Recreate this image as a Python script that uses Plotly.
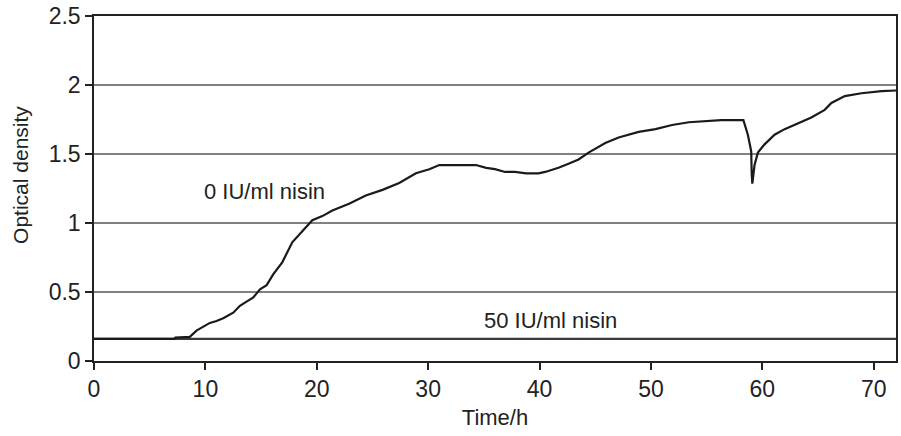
import plotly.graph_objects as go

# 0 IU/ml nisin curve (time h, optical density)
t0 = [0, 3, 7.2, 7.3, 8.6, 9.2, 9.8, 10.4, 11.0, 11.6, 12.5, 13.1, 13.7, 14.3, 14.9,
      15.5, 16.1, 16.9, 17.8, 18.7, 19.3, 19.6, 20.5, 21.4, 22.9, 24.4, 25.9, 27.4,
      28.9, 30.1, 31.0, 32.5, 34.3, 35.2, 36.0, 36.9, 37.8, 38.8, 39.9, 40.5, 41.4,
      41.7, 42.6, 43.5, 44.4, 45.2, 45.9, 47.1, 48.0, 48.9, 50.4, 51.9, 53.4, 54.9,
      56.3, 57.4, 58.3, 58.7, 59.0, 59.05, 59.1, 59.3, 59.6, 60.2, 61.1, 62.0, 63.2,
      64.4, 65.6, 66.2, 67.4, 68.9, 70.7, 72.0]
od0 = [0.16, 0.16, 0.16, 0.17, 0.175, 0.22, 0.245, 0.276, 0.29, 0.31, 0.35, 0.40, 0.43,
       0.46, 0.52, 0.55, 0.63, 0.715, 0.86, 0.94, 1.0, 1.02, 1.05, 1.09, 1.14, 1.20,
       1.24, 1.29, 1.36, 1.39, 1.42, 1.42, 1.42, 1.40, 1.39, 1.37, 1.37, 1.36, 1.36,
       1.37, 1.39, 1.40, 1.43, 1.46, 1.51, 1.55, 1.58, 1.62, 1.64, 1.66, 1.68, 1.71,
       1.73, 1.74, 1.745, 1.745, 1.745, 1.64, 1.52, 1.35, 1.285, 1.42, 1.51, 1.57,
       1.64, 1.68, 1.72, 1.765, 1.82, 1.87, 1.92, 1.94, 1.955, 1.96]

# 50 IU/ml nisin curve
t50 = [0, 72]
od50 = [0.16, 0.16]

x_ticks = [0, 10, 20, 30, 40, 50, 60, 70]
y_ticks = [0, 0.5, 1, 1.5, 2, 2.5]
y_tick_labels = ["0", "0.5", "1", "1.5", "2", "2.5"]

font_family = "Liberation Sans, Arial, sans-serif"
txt = "#222222"

fig = go.Figure()
fig.add_trace(go.Scatter(x=t50, y=od50, mode="lines",
                         line=dict(color="#3a3a3a", width=2.4), showlegend=False))
fig.add_trace(go.Scatter(x=t0, y=od0, mode="lines",
                         line=dict(color="#1a1a1a", width=2.2), showlegend=False))

fig.add_annotation(x=15.3, y=1.225, text="0 IU/ml nisin", showarrow=False,
                   font=dict(size=22, color=txt, family=font_family))
fig.add_annotation(x=41.0, y=0.295, text="50 IU/ml nisin", showarrow=False,
                   font=dict(size=22, color=txt, family=font_family))
# y-axis title placed as an annotation to match the reference's position
fig.add_annotation(xref="paper", yref="paper", x=-0.092, y=0.54, xanchor="center",
                   yanchor="middle", textangle=-90, text="Optical density",
                   showarrow=False, font=dict(size=21, color=txt, family=font_family))

fig.update_layout(
    width=901, height=436,
    margin=dict(l=94, r=3, t=14, b=75),
    paper_bgcolor="white", plot_bgcolor="white",
    font=dict(family=font_family, size=22, color=txt),
)
fig.update_xaxes(
    range=[0, 72], tickvals=x_ticks, ticks="outside", ticklen=7, tickwidth=1.5,
    tickcolor="#222", showline=True, linecolor="#222", linewidth=1.5, mirror=True,
    showgrid=False, zeroline=False,
    title=dict(text="Time/h", font=dict(size=22, color=txt), standoff=8),
    tickfont=dict(size=23, color=txt),
)
fig.update_yaxes(
    range=[0, 2.5], tickvals=y_ticks, ticktext=y_tick_labels, ticks="outside",
    ticklen=7, tickwidth=1.5, tickcolor="#222", showline=True, linecolor="#222",
    linewidth=1.5, mirror=True, showgrid=True, gridcolor="#808080", gridwidth=1.5,
    zeroline=False,
    tickfont=dict(size=23, color=txt),
)

fig.write_html("out.html")
